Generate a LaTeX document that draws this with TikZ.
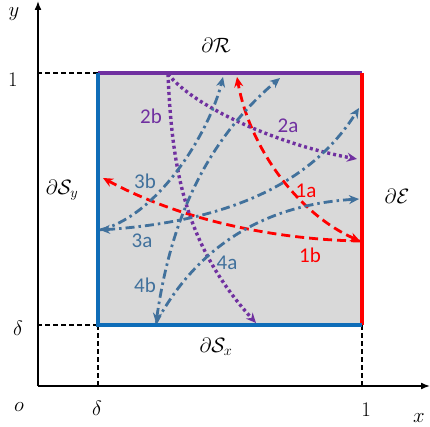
\documentclass[tikz,border=0pt]{standalone}
\usepackage{fontspec}
\setmainfont{Carlito}
\usetikzlibrary{arrows.meta}
\definecolor{cbox}{HTML}{D9D9D9}
\definecolor{cblue}{HTML}{0F6DB8}
\definecolor{cpath}{HTML}{41719C}
\definecolor{cpurple}{HTML}{7030A0}
\definecolor{cred}{HTML}{FF0000}
\tikzset{
  every picture/.style={line width=0.8pt},
  axis/.style={-{Latex[length=9pt, width=7pt]}, line width=1.6pt},
  guide/.style={dash pattern=on 5pt off 3pt, line width=1.2pt},
  edge/.style={line width=3.4pt},
  red1/.style={-{Stealth[length=10pt, width=9pt]}, draw=cred, dash pattern=on 9pt off 5pt, line width=2.8pt},
  purp2/.style={-{Stealth[length=10pt, width=9pt]}, draw=cpurple, dash pattern=on 3pt off 3pt, line width=3.4pt},
  blue3/.style={-{Stealth[length=10pt, width=9pt]}, draw=cpath, dash pattern=on 9pt off 4pt on 2.5pt off 4pt, line width=2.8pt},
  tag/.style={font=\fontsize{21}{23}\selectfont},
  mlab/.style={font=\fontsize{21}{23}\selectfont},
}
\begin{document}
\begin{tikzpicture}[x=1pt,y=-1pt]
  \useasboundingbox (0,0) rectangle (430,427);
  % corners of the domain
  \coordinate (o) at (38,386);
  \coordinate (ll) at (98,325);
  \coordinate (lr) at (362,325);
  \coordinate (ul) at (98,73);
  \coordinate (ur) at (362,73);
  \fill[cbox] (ll) rectangle (ur);
  % axes
  \coordinate (xend) at (430,386);
  \coordinate (yend) at (38,1);
  \draw[axis] (o) -- (xend);
  \draw[axis] (o) -- (yend);
  \draw[guide] (ul) -- (ul -| o);
  \draw[guide] (ll) -- (ll -| o);
  \draw[guide] (ll) -- (ll |- o);
  \draw[guide] (lr) -- (lr |- o);
  % boundary
  \draw[edge, cpurple] (ul) -- (ur);
  \draw[edge, cred] (ur) -- (lr);
  \draw[edge, cblue] (ul) -- (ll) -- (lr);
  % axis labels
  \node[mlab] (ly) at (14,14) {$y$};
  \node[mlab] (lx) at (419,418) {$x$};
  \node[mlab] (lo) at (19,407) {$o$};
  \node[mlab] (ldx) at (97,408) {$\delta$};
  \node[mlab] (l1x) at (366,410) {$1$};
  \node[mlab] (l1y) at (13,80) {$1$};
  \node[mlab] (ldy) at (18,328) {$\delta$};
  \node[mlab] (bR) at (216,45) {$\partial\mathcal{R}$};
  \node[mlab] (bE) at (397,196) {$\partial\mathcal{E}$};
  \node[mlab] (bSy) at (62,190) {$\partial\mathcal{S}_y$};
  \node[mlab] (bSx) at (216,347) {$\partial\mathcal{S}_x$};
  % trajectory points
  \coordinate (p1) at (360,241);
  \coordinate (p1a) at (237,77);
  \coordinate (p1b) at (103,178);
  \coordinate (p2) at (168,74);
  \coordinate (p2a) at (357,159);
  \coordinate (p2b) at (256,323);
  \coordinate (p3) at (100,230);
  \coordinate (p3a) at (359,108);
  \coordinate (p3b) at (223,77);
  \coordinate (p4) at (156,323);
  \coordinate (p4a) at (359,199);
  \coordinate (p4b) at (280,78);
  % red
  \draw[red1, {Stealth[length=10pt, width=9pt]}-{Stealth[length=10pt, width=9pt]}] (p1) .. controls (300,215) and (250,150) .. (p1a);
  \draw[red1] (p1) .. controls (290,240) and (190,225) .. (p1b);
  % purple
  \draw[purp2] (p2) .. controls (195,108) and (280,145) .. (p2a);
  \draw[purp2] (p2) .. controls (172,170) and (185,245) .. (p2b);
  % blue
  \draw[blue3, {Stealth[length=10pt, width=9pt]}-{Stealth[length=10pt, width=9pt]}] (p3) .. controls (250,220) and (320,170) .. (p3a);
  \draw[blue3] (p3) .. controls (160,215) and (210,130) .. (p3b);
  \draw[blue3] (p4) .. controls (195,250) and (260,205) .. (p4a);
  \draw[blue3, {Stealth[length=10pt, width=9pt]}-{Stealth[length=10pt, width=9pt]}] (p4) .. controls (168,240) and (195,150) .. (p4b);
  % tags
  \node[tag, text=cred] (t1a) at (306,191) {1a};
  \node[tag, text=cred] (t1b) at (310,255) {1b};
  \node[tag, text=cpurple] (t2a) at (288,126) {2a};
  \node[tag, text=cpurple] (t2b) at (151,116) {2b};
  \node[tag, text=cpath] (t3a) at (142,241) {3a};
  \node[tag, text=cpath] (t3b) at (145,181) {3b};
  \node[tag, text=cpath] (t4a) at (227,263) {4a};
  \node[tag, text=cpath] (t4b) at (145,285) {4b};
\end{tikzpicture}
\end{document}
